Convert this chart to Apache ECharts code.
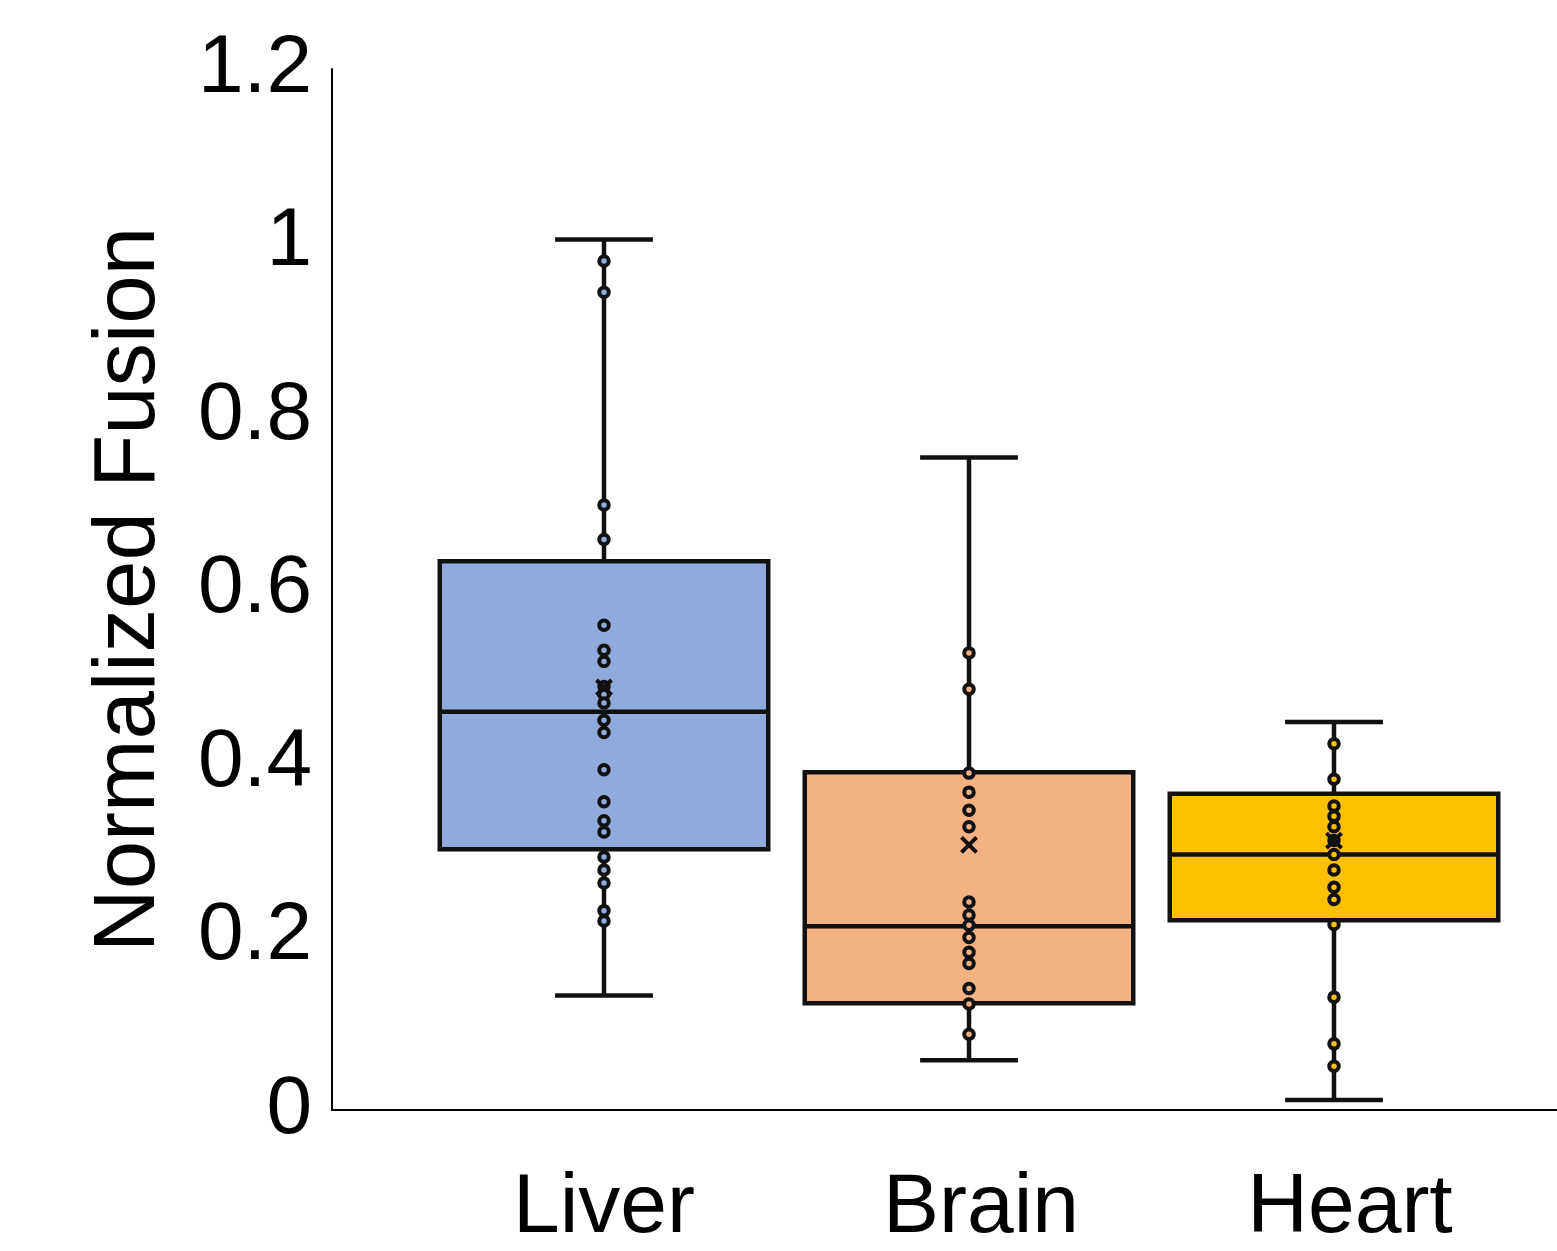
<!DOCTYPE html>
<html>
<head>
<meta charset="utf-8">
<script src="https://cdn.jsdelivr.net/npm/echarts@6/dist/echarts.min.js"></script>
<style>
  html, body { margin: 0; padding: 0; background: #fff; }
  #chart { width: 1557px; height: 1251px; }
</style>
</head>
<body>
<div id="chart"></div>
<script>
// box plot of normalized fusion per tissue
var chart = echarts.init(document.getElementById('chart'));

var categories = ['Liver', 'Brain', 'Heart'];
var boxColors = ['#8FABDC', '#F4B183', '#FFC000'];

// [min, q1, median, q3, max] for each tissue
var boxStats = [
    [0.129, 0.298, 0.457, 0.631, 1.003],
    [0.054, 0.120, 0.209, 0.387, 0.751],
    [0.008, 0.216, 0.292, 0.362, 0.445]
];
var means = [0.485, 0.303, 0.308];

// individual points
var liverPoints = [0.978, 0.942, 0.696, 0.656, 0.557, 0.528, 0.515, 0.486, 0.477, 0.467, 0.447, 0.433,
    0.390, 0.353, 0.331, 0.318, 0.289, 0.274, 0.259, 0.227, 0.215];
var brainPoints = [0.525, 0.483, 0.386, 0.364, 0.343, 0.324, 0.237, 0.222, 0.210, 0.196, 0.179, 0.166,
    0.137, 0.119, 0.084];
var heartPoints = [0.420, 0.379, 0.348, 0.336, 0.324, 0.308, 0.292, 0.274, 0.254, 0.240, 0.211, 0.127,
    0.073, 0.047];
var allPoints = [liverPoints, brainPoints, heartPoints];

var yTicks = { min: 0, max: 1.2, interval: 0.2 };

var boxData = boxStats.map(function (s, i) {
    return [i].concat(s);
});
var meanData = means.map(function (m, i) { return [i, m]; });

function renderBox(params, api) {
    var x = api.value(0);
    var pMin = api.coord([x, api.value(1)]);
    var pQ1 = api.coord([x, api.value(2)]);
    var pMed = api.coord([x, api.value(3)]);
    var pQ3 = api.coord([x, api.value(4)]);
    var pMax = api.coord([x, api.value(5)]);
    var band = api.size([1, 0])[0];
    var half = band * 0.45;
    var cap = band * 0.134;
    var cx = pMed[0];
    var line = { stroke: '#111', lineWidth: 4.5 };
    return {
        type: 'group',
        children: [
            { type: 'line', shape: { x1: cx, y1: pMax[1], x2: cx, y2: pQ3[1] }, style: line },
            { type: 'line', shape: { x1: cx, y1: pQ1[1], x2: cx, y2: pMin[1] }, style: line },
            { type: 'line', shape: { x1: cx - cap, y1: pMax[1], x2: cx + cap, y2: pMax[1] }, style: line },
            { type: 'line', shape: { x1: cx - cap, y1: pMin[1], x2: cx + cap, y2: pMin[1] }, style: line },
            {
                type: 'rect',
                shape: { x: cx - half, y: pQ3[1], width: half * 2, height: pQ1[1] - pQ3[1] },
                style: { fill: boxColors[params.dataIndex], stroke: '#111', lineWidth: 4.5 }
            },
            { type: 'line', shape: { x1: cx - half, y1: pMed[1], x2: cx + half, y2: pMed[1] }, style: line }
        ]
    };
}

// mean shown as an X
function renderMean(params, api) {
    var p = api.coord([api.value(0), api.value(1)]);
    var s = 7.5;
    var line = { stroke: '#111', lineWidth: 4 };
    return {
        type: 'group',
        children: [
            { type: 'line', shape: { x1: p[0] - s, y1: p[1] - s, x2: p[0] + s, y2: p[1] + s }, style: line },
            { type: 'line', shape: { x1: p[0] - s, y1: p[1] + s, x2: p[0] + s, y2: p[1] - s }, style: line }
        ]
    };
}

var pointSeries = allPoints.map(function (pts, i) {
    return {
        type: 'scatter',
        xAxisIndex: 1,
        yAxisIndex: 1,
        z: 4,
        symbol: 'circle',
        symbolSize: 9.5,
        itemStyle: { color: boxColors[i], borderColor: '#111', borderWidth: 4, opacity: 1 },
        data: pts.map(function (v) { return [categories[i], v]; })
    };
});

var labelFont = 'Liberation Sans, Arial, sans-serif';

var option = {
    backgroundColor: '#fff',
    animation: false,
    grid: [
        { left: 332, right: 0, top: 69, bottom: 141 },
        { left: 421.5, right: 40.5, top: 69, bottom: 141 }
    ],
    xAxis: [
        {
            type: 'value', gridIndex: 0, min: 0, max: 1,
            axisLine: { show: true, onZero: false, lineStyle: { color: '#000', width: 2 } },
            axisTick: { show: false }, axisLabel: { show: false }, splitLine: { show: false }
        },
        {
            type: 'category', gridIndex: 1, data: categories,
            axisLine: { show: false }, axisTick: { show: false }, splitLine: { show: false },
            axisLabel: {
                interval: 0,
                hideOverlap: false,
                margin: 60,
                color: '#000',
                fontFamily: labelFont,
                fontSize: 84,
                // the reference labels sit slightly right of the box centres
                formatter: function (v, i) { return '{c' + i + '|' + v + '}'; },
                rich: {
                    c0: { fontSize: 84, fontFamily: labelFont, color: '#000' },
                    c1: { fontSize: 84, fontFamily: labelFont, color: '#000', padding: [0, 0, 0, 24] },
                    c2: { fontSize: 84, fontFamily: labelFont, color: '#000', padding: [0, 0, 0, 32] }
                }
            }
        }
    ],
    yAxis: [
        {
            type: 'value', gridIndex: 0,
            min: yTicks.min, max: yTicks.max, interval: yTicks.interval,
            name: 'Normalized Fusion',
            nameLocation: 'middle',
            nameGap: 158,
            nameTextStyle: { color: '#000', fontFamily: labelFont, fontSize: 87 },
            axisLine: { show: true, lineStyle: { color: '#000', width: 2 } },
            axisTick: { show: false },
            splitLine: { show: false },
            axisLabel: {
                margin: 20,
                color: '#000',
                fontFamily: labelFont,
                fontSize: 82
            }
        },
        {
            type: 'value', gridIndex: 1,
            min: yTicks.min, max: yTicks.max, interval: yTicks.interval,
            show: false
        }
    ],
    series: [
        {
            type: 'custom',
            xAxisIndex: 1,
            yAxisIndex: 1,
            z: 2,
            renderItem: renderBox,
            encode: { x: 0, y: [1, 2, 3, 4, 5] },
            data: boxData
        }
    ].concat(pointSeries).concat([
        {
            type: 'custom',
            xAxisIndex: 1,
            yAxisIndex: 1,
            z: 5,
            renderItem: renderMean,
            encode: { x: 0, y: 1 },
            data: meanData
        }
    ])
};

chart.setOption(option);
</script>
</body>
</html>
